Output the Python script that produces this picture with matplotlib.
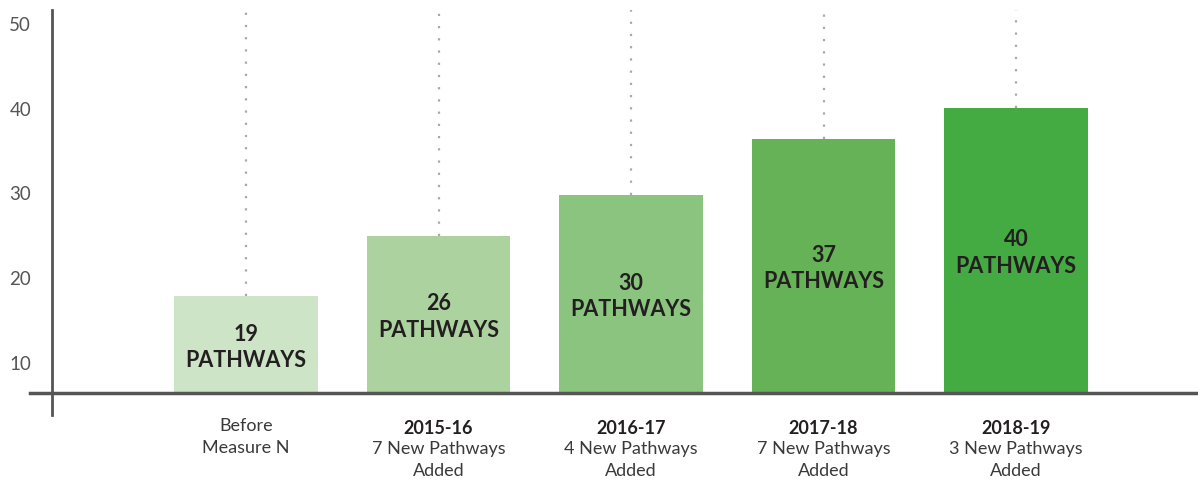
import numpy as np
import matplotlib.pyplot as plt
import matplotlib.transforms as mtransforms

plt.rcParams['font.family'] = ['Lato', 'DejaVu Sans']

# data
periods = ["", "2015-16", "2016-17", "2017-18", "2018-19"]
added = ["Before\nMeasure N", "7 New Pathways\nAdded", "4 New Pathways\nAdded",
         "7 New Pathways\nAdded", "3 New Pathways\nAdded"]
bar_heights = [17.9, 25.0, 29.8, 36.4, 40.1]
bar_labels = ["19\nPATHWAYS", "26\nPATHWAYS", "30\nPATHWAYS", "37\nPATHWAYS", "40\nPATHWAYS"]
colors = ["#cde4c7", "#acd39f", "#8bc47e", "#65b257", "#44ab42"]
yticks = [10, 20, 30, 40, 50]

W, H = 1198, 483
fig = plt.figure(figsize=(W / 100, H / 100), dpi=100)
ax = fig.add_axes([52 / W, (H - 393) / H, (1198 - 52) / W, (393 - 10) / H])

x = np.arange(len(bar_heights))
base = 10 - 30 / 8.475
top = 50 + 14 / 8.475
ax.set_ylim(base, top)
ax.set_xlim((52 - 246) / 192.5, (1198 - 246) / 192.5)

ax.bar(x, bar_heights, width=0.748, color=colors, zorder=2)

# dotted guides from the top of the plot down to each bar
for xi, h in zip(x, bar_heights):
    ax.plot([xi, xi], [h, top], color="#a8a8a8", lw=1.6,
            linestyle=(0, (1, 4.5)), zorder=1)

# value labels inside the bars
for xi, h, lab in zip(x, bar_heights, bar_labels):
    ax.text(xi, (h + base) / 2 - 0.3, lab, ha="center", va="center",
            fontsize=15.5, fontweight="bold", color="#231f20",
            linespacing=1.3, zorder=3)

# category labels under the axis
trans = mtransforms.blended_transform_factory(ax.transData, ax.transAxes)
for xi, p, a in zip(x, periods, added):
    if p:
        ax.text(xi, (393 - 428) / 383, p, transform=trans, ha="center", va="center",
                fontsize=13, fontweight="bold", color="#231f20")
        ax.text(xi, (393 - 441) / 383, a, transform=trans, ha="center", va="top",
                fontsize=13, color="#3a3a3a", linespacing=1.45)
    else:
        ax.text(xi, (393 - 418) / 383, a, transform=trans, ha="center", va="top",
                fontsize=13, color="#3a3a3a", linespacing=1.45)

# axes styling
for s in ["top", "right", "bottom"]:
    ax.spines[s].set_visible(False)
ax.spines["left"].set_color("#555555")
ax.spines["left"].set_linewidth(2)
ax.plot([-22 / 1146, 1], [0, 0], transform=ax.transAxes, color="#555555",
        lw=2.5, clip_on=False, zorder=4)
ax.plot([0, 0], [0, -22 / 383], transform=ax.transAxes, color="#555555",
        lw=2, clip_on=False, zorder=4)

ax.set_xticks([])
ax.set_yticks(yticks)
ax.tick_params(axis="y", length=0, pad=15, labelsize=13.5, labelcolor="#555555")

fig.savefig("out.png", dpi=100)
